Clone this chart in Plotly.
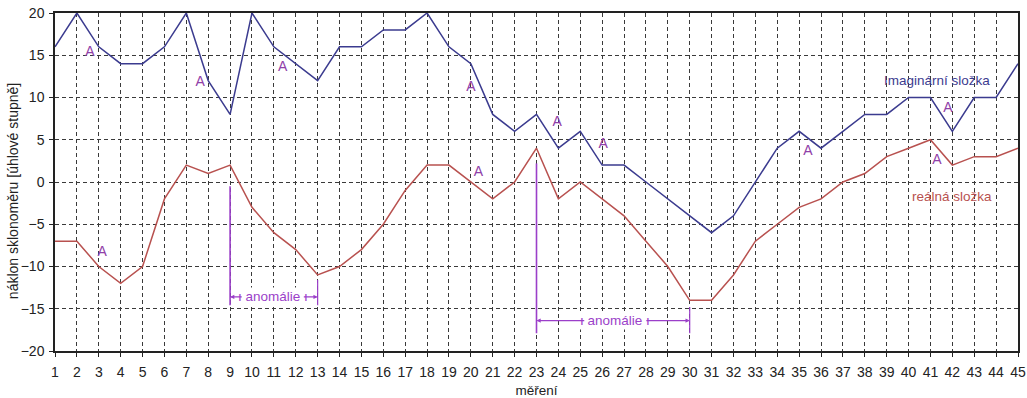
import plotly.graph_objects as go

# ---- data ----
mereni = list(range(1, 46))
imaginarni = [16, 20, 16, 14, 14, 16, 20, 12, 8, 20, 16, 14, 12, 16, 16, 18, 18, 20, 16, 14,
              8, 6, 8, 4, 6, 2, 2, 0, -2, -4, -6, -4, 0, 4, 6, 4, 6, 8, 8, 10,
              10, 6, 10, 10, 14]
realna = [-7, -7, -10, -12, -10, -2, 2, 1, 2, -3, -6, -8, -11, -10, -8, -5, -1, 2, 2, 0,
          -2, 0, 4, -2, 0, -2, -4, -7, -10, -14, -14, -11, -7, -5, -3, -2, 0, 1, 3, 4,
          5, 2, 3, 3, 4]
a_x = [2.6, 3.15, 7.63, 11.4, 20.0, 20.35, 23.95, 26.05, 35.4, 41.8, 41.3]
a_y = [15.3, -8.3, 11.8, 13.6, 11.2, 1.1, 7.1, 4.4, 3.6, 8.7, 2.5]
x_ticks = list(range(1, 46))
y_ticks = [-20, -15, -10, -5, 0, 5, 10, 15, 20]
# anomaly intervals: start, end, arrow level, start-line top, end-line top, lines bottom, label x
anom_start = [9, 23]
anom_end = [13, 30]
anom_level = [-13.6, -16.4]
anom_top_start = [-0.5, 2.2]
anom_top_end = [-11.6, -14.8]
anom_bottom = [-14.6, -17.9]
anom_label_x = [10.95, 26.6]

BLUE = "#3b3b8f"
RED = "#b8514f"
PURPLE = "#9040a8"
VIOLET = "#9b3fc9"
FONT = "Liberation Sans, Arial, sans-serif"

fig = go.Figure()
fig.add_trace(go.Scatter(x=mereni, y=imaginarni, mode="lines",
                         line=dict(color=BLUE, width=1.5), name="Imaginární složka"))
fig.add_trace(go.Scatter(x=mereni, y=realna, mode="lines",
                         line=dict(color=RED, width=1.5), name="reálná složka"))
fig.add_trace(go.Scatter(x=a_x, y=a_y, mode="text", text=["A"] * len(a_x),
                         textfont=dict(color=PURPLE, size=14, family=FONT),
                         hoverinfo="skip"))

shapes = []
annotations = []
for s, e, lv, ts, te, b, lx in zip(anom_start, anom_end, anom_level, anom_top_start,
                                   anom_top_end, anom_bottom, anom_label_x):
    shapes.append(dict(type="line", xref="x", yref="y", x0=s, x1=s, y0=ts, y1=b,
                       line=dict(color=VIOLET, width=1.6)))
    shapes.append(dict(type="line", xref="x", yref="y", x0=e, x1=e, y0=te, y1=b,
                       line=dict(color=VIOLET, width=1.2)))
    annotations.append(dict(x=lx, y=lv, xref="x", yref="y", text="ı anomálie ı",
                            showarrow=False, bgcolor="white",
                            font=dict(color=VIOLET, size=13.5, family=FONT)))
    half = 1.35
    annotations.append(dict(x=s, y=lv, ax=lx - half, ay=lv, xref="x", yref="y",
                            axref="x", ayref="y", text="", showarrow=True,
                            arrowhead=2, arrowsize=0.7, arrowwidth=1.2,
                            arrowcolor=VIOLET))
    annotations.append(dict(x=e, y=lv, ax=lx + half, ay=lv, xref="x", yref="y",
                            axref="x", ayref="y", text="", showarrow=True,
                            arrowhead=2, arrowsize=0.7, arrowwidth=1.2,
                            arrowcolor=VIOLET))

annotations.append(dict(x=41.3, y=12.07, xref="x", yref="y", text="Imaginární složka",
                        showarrow=False, font=dict(color=BLUE, size=13.5, family=FONT)))
annotations.append(dict(x=42.0, y=-1.66, xref="x", yref="y", text="reálná složka",
                        showarrow=False, font=dict(color=RED, size=13.5, family=FONT)))
# y-axis title placed as a rotated annotation (matches reference position)
annotations.append(dict(x=-0.0436, y=0.473, xref="paper", yref="paper",
                        text="náklon sklonoměru [úhlové stupně]", textangle=-90,
                        showarrow=False, xanchor="center", yanchor="middle",
                        font=dict(color="#222222", size=14, family=FONT)))

fig.update_layout(
    width=1027, height=398,
    margin=dict(l=55, r=9, t=13, b=47),
    paper_bgcolor="white", plot_bgcolor="white",
    showlegend=False,
    font=dict(family=FONT, color="#222222", size=14),
    shapes=shapes, annotations=annotations,
)
fig.update_xaxes(range=[1, 45], tickmode="array", tickvals=x_ticks,
                 ticktext=[str(t) for t in x_ticks],
                 showgrid=True, gridcolor="#3a3a3a", griddash="4px,3px", gridwidth=1,
                 showline=True, linecolor="#222222", linewidth=1.5, mirror=True,
                 ticks="outside", ticklen=4, tickcolor="#222222",
                 ticklabelstandoff=3, ticklabeloverflow="allow",
                 zeroline=False, automargin=False,
                 title=dict(text="měření", font=dict(size=13.5)),
                 tickfont=dict(size=14))
fig.update_yaxes(range=[-20, 20], tickmode="array", tickvals=y_ticks,
                 showgrid=True, gridcolor="#3a3a3a", griddash="4px,3px", gridwidth=1,
                 showline=True, linecolor="#222222", linewidth=1.5, mirror=True,
                 ticks="outside", ticklen=4, tickcolor="#222222",
                 ticklabelstandoff=2, ticklabeloverflow="allow",
                 zeroline=False, automargin=False,
                 tickfont=dict(size=14))

# remove the default page margin so the figure fills the 1027x398 window exactly
fig.write_html("out.html", config={"displayModeBar": False},
               post_script="document.body.style.margin='0';"
                           "document.body.style.overflow='hidden';")
